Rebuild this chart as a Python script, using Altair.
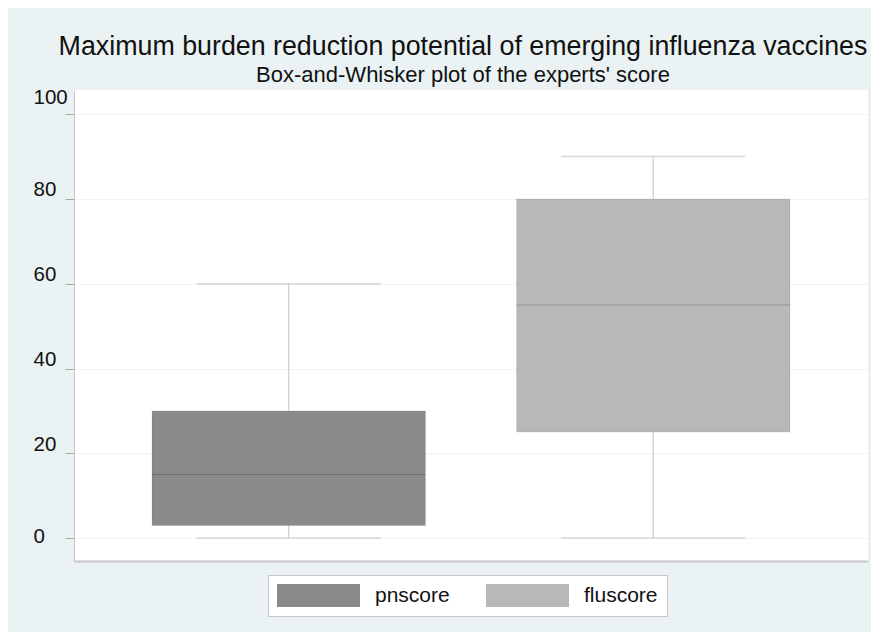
import altair as alt
import pandas as pd

# Data
categories = ["pnscore", "fluscore"]
lower_whisker = [0, 0]
q1 = [3, 25]
median = [15, 55]
q3 = [30, 80]
upper_whisker = [60, 90]
y_ticks = [0, 20, 40, 60, 80, 100]

df = pd.DataFrame({
    "cat": categories,
    "lo": lower_whisker,
    "q1": q1,
    "med": median,
    "q3": q3,
    "hi": upper_whisker,
})

FONT = "Liberation Sans"

xscale = alt.Scale(type="band", paddingInner=0.25, paddingOuter=0.214)
yscale = alt.Scale(domain=[-5.4, 105.7], nice=False, zero=False)
cscale = alt.Scale(domain=categories, range=["#8a8a8a", "#b8b8b8"])

xaxis = alt.Axis(labels=False, ticks=False, title=None, grid=False,
                 domainColor="#c8c8c8", domainWidth=2)
yaxis = alt.Axis(values=y_ticks, title=None, tickSize=9, tickColor="#a8a8a8",
                 labelAlign="left", labelPadding=32, labelFontSize=20.5,
                 labelFont=FONT, labelColor="#111111", labelBaseline="middle",
                 labelOffset={"condition": [{"test": "datum.value == 100", "value": -17},
                                            {"test": "datum.value == 0", "value": -2}],
                              "value": -9},
                 domainColor="#c4c4c4", domainWidth=1,
                 grid=True, gridColor="#eef3f4", gridWidth=1)

# symbol: 23px tall layout box, drawn 83px wide starting at the entry's left edge
legend = alt.Legend(orient="none", legendX=194, legendY=485, direction="horizontal",
                    title=None, symbolType="M-1,-1H6.217V1H-1Z", symbolSize=529,
                    symbolStrokeWidth=0, symbolOpacity=1, labelFontSize=21, labelFont=FONT,
                    labelColor="#111111", labelOffset=75, columnPadding=36, padding=9,
                    fillColor="white", strokeColor="#c8c8c8")

base = alt.Chart(df).encode(
    x=alt.X("cat:N", scale=xscale, sort=categories, axis=xaxis, title=None)
)

whisk_lo = base.mark_rule(color="#c4c4c4", strokeWidth=1).encode(
    y=alt.Y("lo:Q", scale=yscale, axis=yaxis, title=None), y2="q1:Q")
whisk_hi = base.mark_rule(color="#c4c4c4", strokeWidth=1).encode(
    y=alt.Y("q3:Q", scale=yscale), y2="hi:Q")
cap_lo = base.mark_tick(color="#c8c8c8", thickness=1.5, size=184).encode(
    y=alt.Y("lo:Q", scale=yscale))
cap_hi = base.mark_tick(color="#c8c8c8", thickness=1.5, size=184).encode(
    y=alt.Y("hi:Q", scale=yscale))
box = base.mark_bar(stroke="black", strokeOpacity=0.08, strokeWidth=1).encode(
    y=alt.Y("q1:Q", scale=yscale), y2="q3:Q",
    color=alt.Color("cat:N", scale=cscale, sort=categories, legend=legend))
med = base.mark_tick(color="black", opacity=0.2, thickness=1, size=274).encode(
    y=alt.Y("med:Q", scale=yscale))

chart = alt.layer(whisk_lo, whisk_hi, cap_lo, cap_hi, box, med).properties(
    width=794, height=471,
    padding={"left": 66, "top": 82, "right": 3, "bottom": 71},
    autosize=alt.AutoSizeParams(type="none"),
    background="#EAF2F3",
    title=alt.Title(
        "Maximum burden reduction potential of emerging influenza vaccines",
        subtitle="Box-and-Whisker plot of the experts' score",
        font=FONT, fontSize=26.8, fontWeight="normal", color="#111111",
        subtitleFont=FONT, subtitleFontSize=22, subtitleColor="#111111",
        subtitlePadding=4, anchor="middle", offset=1, dx=-8,
    ),
).configure_view(stroke=None, fill="white")

chart.save("out.html", embed_options={"renderer": "svg", "actions": False})
